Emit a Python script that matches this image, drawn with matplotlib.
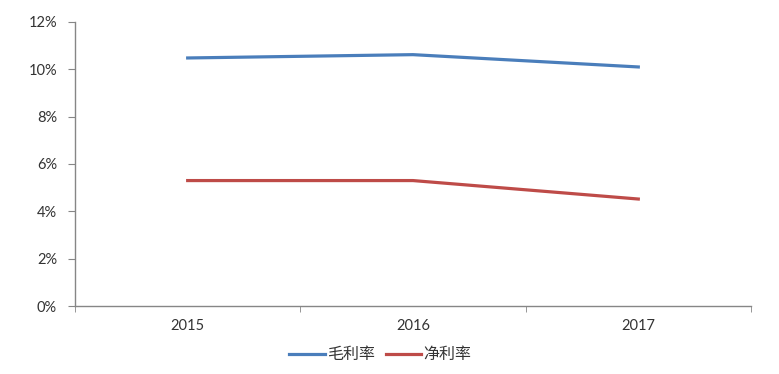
import matplotlib
matplotlib.use("Agg")
import matplotlib.pyplot as plt
from matplotlib.ticker import PercentFormatter, FixedLocator

plt.rcParams['font.family'] = ['Lato', 'Noto Sans CJK SC', 'DejaVu Sans']

years = ["2015", "2016", "2017"]
gross_margin = [10.48, 10.62, 10.1]
net_margin = [5.3, 5.3, 4.52]
labels = ["毛利率", "净利率"]

axis_color = "#868686"
text_color = "#333333"

fig = plt.figure(figsize=(7.79, 3.74), dpi=100)
ax = fig.add_axes([0.0963, 0.1818, 0.8677, 0.7594])

x = list(range(len(years)))
ax.plot(x, gross_margin, color="#4A7EBB", lw=2.3, label=labels[0])
ax.plot(x, net_margin, color="#BE4B48", lw=2.3, label=labels[1])

ax.set_xlim(-0.5, len(years) - 0.5)
ax.set_ylim(0, 12)
ax.set_yticks(range(0, 13, 2))
ax.yaxis.set_major_formatter(PercentFormatter(decimals=0))

ax.set_xticks(x)
ax.set_xticklabels(years)
ax.xaxis.set_minor_locator(FixedLocator([i - 0.5 for i in range(len(years) + 1)]))
ax.tick_params(axis="x", which="major", length=0, pad=9, labelsize=10.5, colors=text_color)
ax.tick_params(axis="x", which="minor", length=4, color=axis_color, direction="out")
ax.tick_params(axis="y", length=5, color=axis_color, labelsize=10.5, labelcolor=text_color, pad=8)

for s in ["top", "right"]:
    ax.spines[s].set_visible(False)
for s in ["left", "bottom"]:
    ax.spines[s].set_color(axis_color)
    ax.spines[s].set_linewidth(1)

ax.legend(loc="center", bbox_to_anchor=(0.452, -0.172), ncol=2, frameon=False,
          fontsize=11.5, handlelength=2.2, handletextpad=0.15, columnspacing=0.7,
          labelcolor=text_color, borderpad=0, borderaxespad=0)

fig.savefig("out.png", dpi=100)
